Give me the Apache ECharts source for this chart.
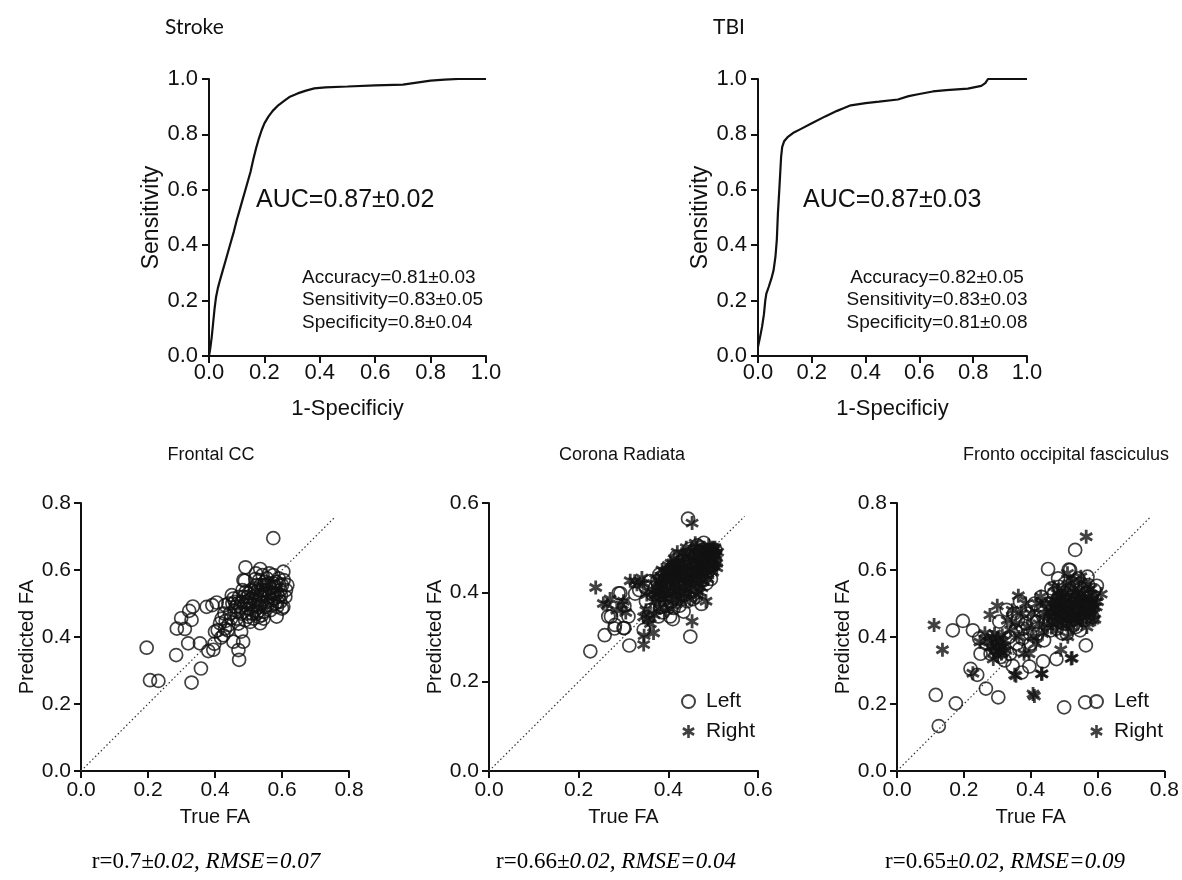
<!DOCTYPE html>
<html>
<head>
<meta charset="utf-8">
<script src="https://cdn.jsdelivr.net/npm/echarts@6/dist/echarts.min.js"></script>
<style>
  html, body { margin: 0; padding: 0; background: #fff; }
  #chart { width: 1182px; height: 880px; }
</style>
</head>
<body>
<div id="chart"></div>
<script>
// ROC curves: [1 - specificity, sensitivity]
const strokeRoc = [[0,0],[0.005,0.03],[0.010,0.07],[0.015,0.12],[0.020,0.17],[0.025,0.21],[0.032,0.245],[0.040,0.275],[0.050,0.31],[0.060,0.345],[0.070,0.38],[0.080,0.415],[0.090,0.45],[0.100,0.49],[0.110,0.525],[0.120,0.56],[0.130,0.595],[0.140,0.63],[0.150,0.665],[0.160,0.71],[0.170,0.75],[0.180,0.785],[0.190,0.815],[0.200,0.84],[0.215,0.865],[0.230,0.885],[0.250,0.905],[0.270,0.92],[0.290,0.935],[0.320,0.948],[0.350,0.958],[0.380,0.966],[0.420,0.970],[0.500,0.973],[0.600,0.977],[0.700,0.980],[0.750,0.987],[0.800,0.994],[0.850,0.998],[0.900,1.0],[1,1]];
const tbiRoc = [[0,0.033],[0.008,0.07],[0.015,0.105],[0.022,0.15],[0.027,0.2],[0.031,0.225],[0.040,0.25],[0.050,0.28],[0.058,0.31],[0.065,0.36],[0.070,0.42],[0.074,0.515],[0.078,0.58],[0.082,0.65],[0.086,0.72],[0.090,0.755],[0.097,0.775],[0.110,0.790],[0.130,0.805],[0.160,0.82],[0.200,0.840],[0.250,0.865],[0.294,0.885],[0.320,0.895],[0.345,0.905],[0.40,0.913],[0.45,0.918],[0.52,0.926],[0.56,0.938],[0.60,0.946],[0.65,0.955],[0.70,0.96],[0.78,0.965],[0.83,0.975],[0.845,0.985],[0.855,1.0],[1,1]];

// Panel headings and statistics
const rocTitles = ['Stroke', 'TBI'];
const aucTexts = ['AUC=0.87\u00B10.02', 'AUC=0.87\u00B10.03'];
const strokeStats = ['Accuracy=0.81\u00B10.03', 'Sensitivity=0.83\u00B10.05', 'Specificity=0.8\u00B10.04'];
const tbiStats = ['Accuracy=0.82\u00B10.05', 'Sensitivity=0.83\u00B10.03', 'Specificity=0.81\u00B10.08'];
const tractTitles = ['Frontal CC', 'Corona Radiata', 'Fronto occipital fasciculus'];
const corrNormal = ['r=0.7', 'r=0.66', 'r=0.65'];
const corrItalic = ['\u00B10.02, RMSE=0.07', '\u00B10.02, RMSE=0.04', '\u00B10.02, RMSE=0.09'];

// Axis ranges
const rocMax = 1.0;
const tractMax = [0.8, 0.6, 0.8];
const tickStep = 0.2;

// Identity reference lines [true, predicted]
const diagFrontal = [[0,0],[0.76,0.76]];
const diagCorona = [[0,0],[0.57,0.57]];
const diagFronto = [[0,0],[0.76,0.76]];

// Frontal CC: [true FA, predicted FA]
const frontalCC = [[0.574,0.695],[0.196,0.368],[0.206,0.271],[0.231,0.269],[0.330,0.264],[0.358,0.306],[0.284,0.346],[0.320,0.381],[0.355,0.381],[0.286,0.425],[0.310,0.424],[0.299,0.456],[0.330,0.451],[0.323,0.478],[0.334,0.491],[0.375,0.490],[0.392,0.495],[0.405,0.503],[0.380,0.358],[0.395,0.362],[0.398,0.380],[0.400,0.416],[0.408,0.420],[0.415,0.441],[0.418,0.398],[0.425,0.405],[0.430,0.425],[0.420,0.455],[0.432,0.448],[0.440,0.436],[0.445,0.470],[0.430,0.495],[0.440,0.500],[0.450,0.525],[0.455,0.515],[0.460,0.505],[0.455,0.386],[0.470,0.361],[0.472,0.332],[0.484,0.386],[0.478,0.416],[0.470,0.440],[0.465,0.455],[0.470,0.475],[0.475,0.490],[0.480,0.505],[0.485,0.520],[0.482,0.540],[0.489,0.568],[0.491,0.608],[0.535,0.603],[0.604,0.595],[0.485,0.570],[0.520,0.573],[0.574,0.585],[0.616,0.555],[0.604,0.490],[0.584,0.461],[0.535,0.441],[0.545,0.455],[0.490,0.450],[0.495,0.470],[0.500,0.485],[0.505,0.500],[0.510,0.515],[0.515,0.530],[0.520,0.545],[0.525,0.555],[0.500,0.530],[0.495,0.505],[0.510,0.470],[0.520,0.480],[0.525,0.495],[0.530,0.510],[0.535,0.525],[0.540,0.540],[0.545,0.555],[0.550,0.565],[0.555,0.575],[0.560,0.560],[0.565,0.545],[0.570,0.530],[0.575,0.515],[0.580,0.500],[0.585,0.490],[0.590,0.520],[0.595,0.540],[0.600,0.555],[0.605,0.570],[0.590,0.575],[0.580,0.550],[0.560,0.520],[0.555,0.505],[0.550,0.490],[0.545,0.475],[0.540,0.465],[0.530,0.460],[0.525,0.470],[0.515,0.455],[0.505,0.445],[0.500,0.460],[0.565,0.480],[0.570,0.495],[0.575,0.560],[0.585,0.530],[0.595,0.505],[0.600,0.485],[0.610,0.520],[0.612,0.540],[0.548,0.530],[0.538,0.500],[0.528,0.540],[0.518,0.510],[0.508,0.540],[0.498,0.520],[0.488,0.495],[0.478,0.470],[0.468,0.500],[0.458,0.480],[0.448,0.455],[0.438,0.420],[0.428,0.470],[0.562,0.590],[0.552,0.540],[0.542,0.585],[0.532,0.570],[0.522,0.590],[0.592,0.555],[0.452,0.500],[0.462,0.490],[0.472,0.520],[0.492,0.535],[0.502,0.510],[0.512,0.495],[0.522,0.525],[0.532,0.490],[0.542,0.520],[0.552,0.555],[0.562,0.535],[0.572,0.550],[0.582,0.565],[0.557,0.495],[0.567,0.510],[0.577,0.530],[0.587,0.505],[0.597,0.525],[0.527,0.475],[0.537,0.555]];

// Corona Radiata, left and right hemispheres
const coronaLeft = [[0.444,0.565],[0.479,0.511],[0.447,0.497],[0.226,0.268],[0.258,0.304],[0.313,0.281],[0.280,0.319],[0.272,0.346],[0.293,0.398],[0.300,0.320],[0.311,0.346],[0.326,0.397],[0.345,0.316],[0.449,0.301],[0.474,0.374],[0.434,0.357],[0.404,0.346],[0.378,0.346],[0.382,0.367],[0.266,0.346],[0.281,0.327],[0.302,0.320],[0.289,0.398],[0.302,0.370],[0.335,0.405],[0.350,0.380],[0.355,0.345],[0.360,0.360],[0.365,0.395],[0.410,0.340],[0.370,0.410],[0.375,0.425],[0.380,0.385],[0.385,0.405],[0.390,0.420],[0.392,0.440],[0.395,0.370],[0.398,0.395],[0.400,0.430],[0.402,0.410],[0.405,0.450],[0.408,0.380],[0.410,0.420],[0.412,0.400],[0.415,0.440],[0.418,0.460],[0.420,0.385],[0.422,0.425],[0.425,0.410],[0.428,0.445],[0.430,0.395],[0.432,0.470],[0.435,0.430],[0.438,0.415],[0.440,0.455],[0.442,0.380],[0.445,0.440],[0.448,0.420],[0.450,0.465],[0.452,0.400],[0.455,0.445],[0.458,0.480],[0.460,0.430],[0.462,0.410],[0.465,0.460],[0.468,0.445],[0.470,0.490],[0.472,0.425],[0.475,0.470],[0.478,0.450],[0.480,0.480],[0.482,0.435],[0.485,0.465],[0.488,0.495],[0.490,0.450],[0.492,0.475],[0.495,0.490],[0.498,0.460],[0.500,0.480],[0.503,0.470],[0.505,0.495],[0.380,0.440],[0.388,0.355],[0.412,0.365],[0.425,0.370],[0.437,0.395],[0.455,0.385],[0.462,0.390],[0.418,0.480],[0.445,0.485],[0.465,0.505],[0.485,0.420],[0.495,0.430],[0.350,0.410],[0.360,0.425]];
const coronaRight = [[0.238,0.411],[0.453,0.555],[0.453,0.335],[0.367,0.309],[0.345,0.283],[0.346,0.303],[0.263,0.372],[0.315,0.426],[0.341,0.432],[0.297,0.372],[0.484,0.380],[0.255,0.375],[0.270,0.385],[0.285,0.360],[0.300,0.380],[0.305,0.355],[0.325,0.425],[0.330,0.418],[0.345,0.420],[0.350,0.360],[0.355,0.340],[0.360,0.330],[0.352,0.395],[0.368,0.350],[0.345,0.345],[0.365,0.400],[0.370,0.380],[0.372,0.430],[0.378,0.395],[0.382,0.415],[0.386,0.450],[0.390,0.400],[0.393,0.385],[0.396,0.430],[0.400,0.445],[0.403,0.395],[0.406,0.465],[0.409,0.430],[0.412,0.415],[0.415,0.455],[0.418,0.400],[0.421,0.440],[0.424,0.470],[0.427,0.425],[0.430,0.455],[0.433,0.410],[0.436,0.480],[0.439,0.445],[0.442,0.430],[0.445,0.465],[0.448,0.405],[0.451,0.450],[0.454,0.490],[0.457,0.435],[0.460,0.470],[0.463,0.455],[0.466,0.420],[0.469,0.480],[0.472,0.445],[0.475,0.500],[0.478,0.465],[0.481,0.440],[0.484,0.485],[0.487,0.460],[0.490,0.505],[0.493,0.470],[0.496,0.485],[0.499,0.445],[0.502,0.495],[0.505,0.480],[0.508,0.465],[0.510,0.490],[0.508,0.455],[0.488,0.430],[0.475,0.410],[0.462,0.395],[0.448,0.385],[0.428,0.380],[0.410,0.370],[0.395,0.360],[0.420,0.490],[0.440,0.500],[0.460,0.510],[0.480,0.500],[0.470,0.400],[0.380,0.365],[0.385,0.435],[0.400,0.460],[0.498,0.500],[0.502,0.460],[0.372,0.395],[0.376,0.410],[0.380,0.425],[0.384,0.390],[0.388,0.415],[0.392,0.445],[0.396,0.405],[0.400,0.420],[0.404,0.440],[0.408,0.455],[0.412,0.435],[0.416,0.420],[0.420,0.465],[0.424,0.445],[0.428,0.400],[0.432,0.440],[0.436,0.460],[0.440,0.420],[0.444,0.450],[0.448,0.475],[0.452,0.430],[0.456,0.460],[0.460,0.445],[0.464,0.485],[0.468,0.465],[0.472,0.495],[0.476,0.455],[0.480,0.470],[0.484,0.450],[0.488,0.480],[0.492,0.495],[0.496,0.470],[0.500,0.490],[0.504,0.500],[0.506,0.485],[0.390,0.385],[0.405,0.405],[0.418,0.385],[0.435,0.395],[0.450,0.415],[0.465,0.430],[0.478,0.425],[0.492,0.455],[0.398,0.450],[0.413,0.475],[0.430,0.485],[0.447,0.490],[0.462,0.500]];

// Fronto occipital fasciculus, left and right hemispheres
const frontoLeft = [[0.533,0.660],[0.452,0.603],[0.514,0.601],[0.598,0.553],[0.565,0.375],[0.563,0.205],[0.500,0.190],[0.303,0.220],[0.266,0.246],[0.240,0.287],[0.220,0.305],[0.176,0.202],[0.116,0.227],[0.125,0.134],[0.197,0.448],[0.167,0.420],[0.227,0.420],[0.246,0.396],[0.250,0.350],[0.346,0.314],[0.373,0.294],[0.396,0.312],[0.437,0.327],[0.477,0.334],[0.494,0.411],[0.366,0.364],[0.368,0.506],[0.328,0.481],[0.306,0.446],[0.310,0.340],[0.320,0.360],[0.290,0.370],[0.335,0.400],[0.355,0.420],[0.375,0.395],[0.385,0.440],[0.400,0.380],[0.410,0.460],[0.420,0.410],[0.430,0.480],[0.440,0.390],[0.445,0.440],[0.455,0.500],[0.460,0.420],[0.465,0.470],[0.470,0.530],[0.475,0.450],[0.480,0.500],[0.485,0.550],[0.490,0.470],[0.495,0.520],[0.500,0.440],[0.505,0.490],[0.510,0.540],[0.515,0.460],[0.520,0.510],[0.525,0.560],[0.530,0.480],[0.535,0.430],[0.540,0.520],[0.545,0.470],[0.550,0.545],[0.555,0.500],[0.560,0.450],[0.565,0.530],[0.570,0.580],[0.575,0.490],[0.580,0.520],[0.585,0.460],[0.590,0.540],[0.518,0.600],[0.548,0.420],[0.528,0.435],[0.508,0.410],[0.478,0.425],[0.458,0.450],[0.438,0.460],[0.418,0.445],[0.398,0.410],[0.378,0.425],[0.358,0.380],[0.338,0.350],[0.322,0.330],[0.300,0.360],[0.280,0.350],[0.268,0.380],[0.350,0.470],[0.362,0.450],[0.392,0.470],[0.412,0.500],[0.432,0.520],[0.462,0.545],[0.482,0.575],[0.502,0.560],[0.542,0.575],[0.572,0.555]];
const frontoRight = [[0.566,0.699],[0.111,0.436],[0.136,0.362],[0.227,0.292],[0.407,0.230],[0.411,0.224],[0.356,0.284],[0.434,0.290],[0.524,0.337],[0.490,0.362],[0.511,0.401],[0.611,0.528],[0.592,0.453],[0.363,0.523],[0.300,0.493],[0.278,0.466],[0.263,0.411],[0.288,0.334],[0.352,0.287],[0.432,0.290],[0.521,0.336],[0.248,0.385],[0.270,0.390],[0.280,0.370],[0.285,0.400],[0.290,0.355],[0.295,0.385],[0.298,0.370],[0.302,0.395],[0.305,0.360],[0.308,0.380],[0.312,0.350],[0.315,0.405],[0.318,0.370],[0.322,0.390],[0.326,0.360],[0.300,0.345],[0.292,0.410],[0.330,0.450],[0.340,0.420],[0.345,0.480],[0.355,0.440],[0.365,0.400],[0.372,0.470],[0.380,0.350],[0.385,0.500],[0.390,0.430],[0.395,0.350],[0.402,0.470],[0.408,0.400],[0.415,0.380],[0.420,0.500],[0.425,0.440],[0.430,0.520],[0.435,0.410],[0.440,0.470],[0.445,0.500],[0.450,0.430],[0.455,0.460],[0.460,0.480],[0.465,0.440],[0.468,0.510],[0.472,0.470],[0.476,0.420],[0.480,0.530],[0.484,0.460],[0.488,0.490],[0.492,0.440],[0.496,0.545],[0.500,0.470],[0.504,0.510],[0.508,0.450],[0.512,0.490],[0.516,0.560],[0.520,0.430],[0.524,0.480],[0.528,0.520],[0.532,0.460],[0.536,0.500],[0.540,0.440],[0.544,0.540],[0.548,0.480],[0.552,0.510],[0.556,0.460],[0.560,0.560],[0.564,0.490],[0.568,0.430],[0.572,0.520],[0.576,0.470],[0.580,0.545],[0.584,0.500],[0.588,0.470],[0.592,0.520],[0.596,0.490],[0.550,0.580],[0.530,0.570],[0.510,0.590],[0.490,0.520],[0.470,0.550],[0.600,0.505],[0.462,0.500],[0.466,0.460],[0.474,0.490],[0.478,0.510],[0.482,0.445],[0.486,0.520],[0.490,0.480],[0.494,0.500],[0.498,0.455],[0.502,0.530],[0.506,0.470],[0.510,0.510],[0.514,0.440],[0.518,0.500],[0.522,0.540],[0.526,0.455],[0.530,0.500],[0.534,0.480],[0.538,0.530],[0.542,0.460],[0.546,0.500],[0.550,0.450],[0.554,0.530],[0.558,0.480],[0.562,0.510],[0.566,0.460],[0.570,0.500],[0.574,0.540],[0.578,0.480],[0.582,0.510],[0.586,0.450],[0.590,0.490],[0.520,0.465],[0.540,0.510],[0.560,0.470],[0.500,0.500],[0.480,0.480]];

const SANS = '"Liberation Sans", Arial, sans-serif';
const SERIF = '"Liberation Serif", "Times New Roman", serif';
const INK = '#111';

// Six-armed asterisk drawn as three overlapping bars
const ASTERISK = 'path://M40,0H60V100H40Z M1.7,33.66L11.7,16.34L98.3,66.34L88.3,83.66Z M11.7,83.66L1.7,66.34L88.3,16.34L98.3,33.66Z';

const grids = [
  { left: 209, top: 79, width: 277, height: 277 },
  { left: 758, top: 79, width: 269, height: 277 },
  { left: 81, top: 503, width: 268, height: 268 },
  { left: 489, top: 503, width: 269, height: 268 },
  { left: 897, top: 503, width: 268, height: 268 }
];

function axis(gridIndex, max, name, o) {
  return {
    type: 'value', gridIndex: gridIndex, min: 0, max: max, interval: tickStep,
    axisLine: { show: true, onZero: false, lineStyle: { color: INK, width: 2 } },
    axisTick: { show: true, inside: false, length: 7, lineStyle: { color: INK, width: 2 } },
    axisLabel: { formatter: function (v) { return v.toFixed(1); }, fontSize: o.labelSize, fontFamily: SANS, color: INK, margin: o.margin },
    splitLine: { show: false },
    name: name, nameLocation: 'middle', nameGap: o.nameGap,
    nameTextStyle: { fontSize: o.nameSize, fontFamily: SANS, color: INK }
  };
}

const rocX = { labelSize: 22, margin: 6, nameGap: 42, nameSize: 22 };
const rocY = { labelSize: 22, margin: 11, nameGap: 46, nameSize: 23 };
const faX = { labelSize: 21, margin: 9, nameGap: 36, nameSize: 20 };
const faY = { labelSize: 21, margin: 10, nameGap: 39, nameSize: 20 };

const xAxes = [
  axis(0, rocMax, '1-Specificiy', rocX),
  axis(1, rocMax, '1-Specificiy', rocX),
  axis(2, tractMax[0], 'True FA', faX),
  axis(3, tractMax[1], 'True FA', faX),
  axis(4, tractMax[2], 'True FA', faX)
];
const yAxes = [
  axis(0, rocMax, 'Sensitivity', rocY),
  axis(1, rocMax, 'Sensitivity', rocY),
  axis(2, tractMax[0], 'Predicted FA', faY),
  axis(3, tractMax[1], 'Predicted FA', faY),
  axis(4, tractMax[2], 'Predicted FA', faY)
];

function rocSeries(idx, data) {
  return { type: 'line', xAxisIndex: idx, yAxisIndex: idx, data: data, symbol: 'none', silent: true,
    lineStyle: { color: INK, width: 2.2 }, animation: false };
}
function diagSeries(idx, data) {
  return { type: 'line', xAxisIndex: idx, yAxisIndex: idx, data: data, symbol: 'none', silent: true, z: 1,
    lineStyle: { color: '#333', width: 1.2, type: [1.5, 2.5] }, animation: false };
}
function circles(idx, name, data) {
  return { type: 'scatter', name: name, xAxisIndex: idx, yAxisIndex: idx, data: data, symbol: 'circle', symbolSize: 13,
    itemStyle: { color: 'rgba(0,0,0,0)', borderColor: INK, borderWidth: 1.7 }, z: 3, animation: false };
}
function stars(idx, name, data) {
  return { type: 'scatter', name: name, xAxisIndex: idx, yAxisIndex: idx, data: data, symbol: ASTERISK, symbolSize: 14,
    symbolKeepAspect: true, itemStyle: { color: INK }, z: 3, animation: false };
}

function label(x, y, text, size, align, family) {
  return { type: 'text', x: x, y: y, silent: true,
    style: { text: text, font: size + 'px ' + (family || SANS), fill: INK,
      align: align, textAlign: align, verticalAlign: 'middle', textVerticalAlign: 'middle' } };
}

function caption(cx, i) {
  return {
    type: 'text', x: cx, y: 862, silent: true,
    style: {
      text: '{n|' + corrNormal[i] + '}{it|' + corrItalic[i] + '}',
      align: 'center', textAlign: 'center', verticalAlign: 'middle', textVerticalAlign: 'middle',
      fill: '#000',
      rich: {
        n: { fontFamily: SERIF, fontSize: 23, fontStyle: 'normal', color: '#000' },
        it: { fontFamily: SERIF, fontSize: 23, fontStyle: 'italic', color: '#000' }
      }
    }
  };
}

const legendBase = {
  data: ['Left', 'Right'], orient: 'vertical', itemWidth: 13, itemHeight: 13, itemGap: 9,
  selectedMode: false, textStyle: { fontSize: 21, fontFamily: SANS, color: INK, padding: [0, 0, 0, 6] }
};

const option = {
  backgroundColor: '#fff',
  animation: false,
  grid: grids,
  xAxis: xAxes,
  yAxis: yAxes,
  legend: [
    Object.assign({ left: 676, top: 686 }, legendBase),
    Object.assign({ left: 1084, top: 686 }, legendBase)
  ],
  series: [
    rocSeries(0, strokeRoc),
    rocSeries(1, tbiRoc),
    diagSeries(2, diagFrontal),
    circles(2, 'Frontal CC', frontalCC),
    diagSeries(3, diagCorona),
    circles(3, 'Left', coronaLeft),
    stars(3, 'Right', coronaRight),
    diagSeries(4, diagFronto),
    circles(4, 'Left', frontoLeft),
    stars(4, 'Right', frontoRight)
  ],
  graphic: [
    label(165, 27, rocTitles[0], 21, 'left', 'Lato, "Open Sans", sans-serif'),
    label(713, 27, rocTitles[1], 21, 'left', 'Lato, "Open Sans", sans-serif'),
    label(256, 200, aucTexts[0], 25, 'left'),
    label(803, 200, aucTexts[1], 25, 'left'),
    label(302, 278, strokeStats[0], 19, 'left'),
    label(302, 300, strokeStats[1], 19, 'left'),
    label(302, 323, strokeStats[2], 19, 'left'),
    label(937, 278, tbiStats[0], 19, 'center'),
    label(937, 300, tbiStats[1], 19, 'center'),
    label(937, 323, tbiStats[2], 19, 'center'),
    label(211, 455, tractTitles[0], 18, 'center'),
    label(622, 455, tractTitles[1], 18, 'center'),
    label(1066, 455, tractTitles[2], 18, 'center'),
    caption(206, 0),
    caption(616, 1),
    caption(1005, 2)
  ]
};

const chart = echarts.init(document.getElementById('chart'), null, { renderer: 'canvas' });
chart.setOption(option);
</script>
</body>
</html>
